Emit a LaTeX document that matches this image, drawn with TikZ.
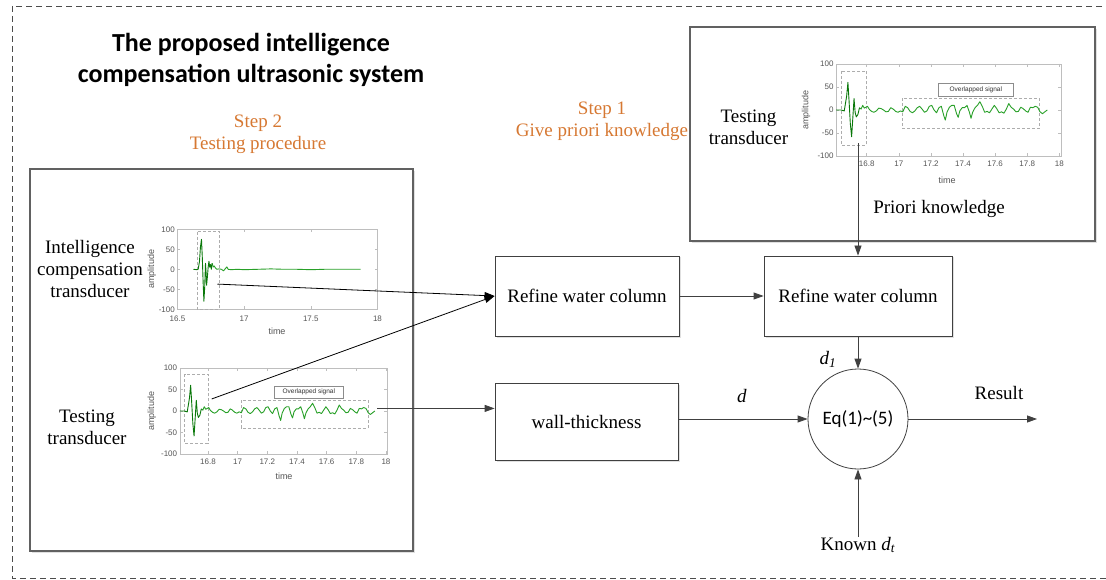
\documentclass[tikz,border=0pt]{standalone}
\usepackage{fontspec}
\setmainfont{Liberation Serif}
\newfontfamily\calfont{Carlito}
\newfontfamily\arfont{Liberation Sans}
\usetikzlibrary{arrows.meta,shadows}
\definecolor{stepor}{RGB}{214,120,50}
\definecolor{lnc}{RGB}{64,64,64}
\definecolor{sigg}{RGB}{40,160,40}
\definecolor{sigd}{RGB}{10,120,10}
\definecolor{axc}{RGB}{190,190,190}
\definecolor{tkc}{RGB}{85,85,85}
\tikzset{
 txt/.style={font=\fontsize{19}{22}\selectfont, align=center, inner sep=0pt},
 stepl/.style={txt, text=stepor},
 boxn/.style={draw=lnc, line width=0.8pt, fill=white, inner sep=0pt,
   font=\fontsize{19}{22}\selectfont,
   drop shadow={shadow xshift=1.5pt, shadow yshift=-1.5pt, fill=black!12, opacity=1}},
 frm/.style={draw=black!62, line width=1.2pt, fill=white, inner sep=0pt,
   drop shadow={shadow xshift=2pt, shadow yshift=-2pt, fill=black!12, opacity=1}},
 arr/.style={draw=lnc, line width=0.8pt, -{Triangle[length=10pt,width=7pt]}},
 sig/.style={draw=sigg, line width=0.9pt, line join=round},
 sigdk/.style={draw=sigd, line width=0.9pt, line join=round},
 ax/.style={draw=axc, line width=0.5pt},
 dbox/.style={draw=black!32, densely dashed, line width=0.5pt},
 lbox/.style={draw=black!45, fill=white, line width=0.5pt},
 tk/.style={font=\arfont\fontsize{8}{9}\selectfont, text=tkc, inner sep=2.5pt},
 xtk/.style={tk, anchor=north, yshift=-2pt},
 axl/.style={font=\arfont\fontsize{9}{10}\selectfont, text=tkc, inner sep=0pt},
 ovl/.style={font=\arfont\fontsize{6.5}{7}\selectfont, text=black!80, inner sep=0pt},
}
\newcommand\burstsig{%
\draw[sigdk] plot coordinates {(16.61,0) (16.64,0) (16.66,-2) (16.675,30) (16.683,60) (16.69,20) (16.698,-30) (16.706,-58) (16.713,-20) (16.721,25) (16.728,-5) (16.735,-15) (16.745,-10) (16.755,5)};}
\newcommand\restsig{%
\draw[sig] plot coordinates {(16.755,5) (16.765,2) (16.775,10) (16.785,4) (16.795,6) (16.805,8) (16.815,2) (16.83,-3) (16.845,-5) (16.86,-2) (16.875,4) (16.89,3) (16.905,0) (16.92,-4) (16.935,-3) (16.95,5) (16.965,2) (16.98,-3) (16.995,-5) (17.01,-2) (17.025,-4) (17.04,8) (17.055,5) (17.07,-3) (17.085,-6) (17.1,-2) (17.115,5) (17.13,8) (17.145,2) (17.16,-5) (17.175,-2) (17.19,8) (17.205,10) (17.22,0) (17.235,-6) (17.25,5) (17.265,8) (17.28,-12) (17.29,-22) (17.3,-5) (17.315,6) (17.33,10) (17.345,10) (17.36,-8) (17.37,-16) (17.38,-2) (17.395,5) (17.41,5) (17.425,10) (17.44,-5) (17.45,-18) (17.46,-5) (17.475,5) (17.49,10) (17.505,18) (17.52,8) (17.535,-5) (17.55,-3) (17.565,-6) (17.58,2) (17.595,10) (17.61,3) (17.625,-6) (17.64,-4) (17.655,-7) (17.67,2) (17.685,14) (17.7,6) (17.715,2) (17.73,-4) (17.745,-3) (17.76,6) (17.775,3) (17.79,-2) (17.805,-5) (17.82,6) (17.835,5) (17.85,8) (17.865,6) (17.88,-4) (17.895,-8) (17.91,-4) (17.925,0)};}
\newcommand\testplot{%
 \draw[ax] (16.61,-100) rectangle (18.01,100);
 \foreach \v in {16.8,17,17.2,17.4,17.6,17.8,18} {\draw[ax] (\v,-100) -- (\v,-93); \draw[ax] (\v,100) -- (\v,93); \node[xtk] at (\v,-100) {\v};}
 \foreach \v in {100,50,0,-50,-100} {\draw[ax] (16.61,\v) -- (16.63,\v); \draw[ax] (18.01,\v) -- (17.99,\v); \node[tk,anchor=east] at (16.61,\v) {\v};}
 \draw[dbox] (16.642,85) rectangle (16.8,-76);
 \draw[dbox] (17.022,25) rectangle (17.878,-40);
 \draw[lbox] (17.245,58) rectangle (17.715,30);
 \node[ovl] at (17.48,44) {Overlapped signal};
 \restsig
 \burstsig
}
\begin{document}
\begin{tikzpicture}[x=1pt,y=-1pt]
\useasboundingbox (0,0) rectangle (1106,580);
% outer dashed frame
\draw[draw=black!70, line width=0.8pt, dash pattern=on 6pt off 4pt] (12,6) rectangle (1120,578);
% frames
\node[frm, minimum width=383pt, minimum height=382pt] (frameL) at (221.5,360) {};
\node[frm, minimum width=405pt, minimum height=214pt] (frameR) at (892.5,134) {};
% title and steps
\node[font=\calfont\bfseries\fontsize{26}{31}\selectfont, align=center, inner sep=0pt] (title) at (251,60) {The proposed intelligence\\compensation ultrasonic system};
\node[stepl] (step2) at (258,134) {Step 2\\Testing procedure};
\node[stepl] (step1) at (602,121) {Step 1\\Give priori knowledge};
% side labels
\node[txt] (lab1) at (90,269.5) {Intelligence\\compensation\\transducer};
\node[txt] (lab2) at (87,427.5) {Testing\\transducer};
\node[txt] (lab3) at (748.5,127.5) {Testing\\transducer};
\node[txt] (prior) at (939,209) {Priori knowledge};
% plot 1
\begin{scope}[shift={(-2022.45,269.3)}, xscale=133.33, yscale=-0.4]
 \draw[ax] (16.5,-100) rectangle (18,100);
 \foreach \v in {16.5,17,17.5,18} {\draw[ax] (\v,-100) -- (\v,-92.5); \draw[ax] (\v,100) -- (\v,92.5); \node[xtk, yshift=-1.5pt] at (\v,-100) {\v};}
 \foreach \v in {100,50,0,-50,-100} {\draw[ax] (16.5,\v) -- (16.522,\v); \draw[ax] (18,\v) -- (17.978,\v); \node[tk,anchor=east] at (16.5,\v) {\v};}
 \draw[dbox] (16.648,94) rectangle (16.81,-100);
 \draw[sig] plot coordinates {(16.76,15) (16.768,6) (16.776,8) (16.785,3) (16.795,0) (16.81,1) (16.83,0) (16.845,-4) (16.86,2) (16.87,6) (16.88,0) (16.9,-1) (16.95,0) (17.0,-1) (17.1,0) (17.2,1) (17.3,0) (17.4,0) (17.5,-1) (17.6,0) (17.7,0) (17.8,0) (17.873,0)};
 \draw[sigdk] plot coordinates {(16.62,0) (16.645,-1) (16.655,0) (16.665,20) (16.672,55) (16.68,75) (16.686,30) (16.692,-30) (16.698,-80) (16.704,-45) (16.71,15) (16.714,-5) (16.718,-40) (16.724,-20) (16.73,5) (16.736,20) (16.742,5) (16.748,12) (16.754,0) (16.76,15)};
 \coordinate (s1) at (16.8,-37);
\end{scope}
\node[axl] (t1) at (277,331) {time};
\node[axl, rotate=90] (a1) at (151.7,269) {amplitude};
% plot 2
\begin{scope}[shift={(-2283.44,411)}, xscale=148.3, yscale=-0.43]
 \testplot
 \coordinate (s2) at (16.825,28);
 \coordinate (s3) at (17.94,6);
\end{scope}
\node[axl] (t2) at (284,476) {time};
\node[axl, rotate=90] (a2) at (151.7,411) {amplitude};
% plot 3
\begin{scope}[shift={(-1829.7,110)}, xscale=160.5, yscale=-0.46]
 \testplot
 \coordinate (s4) at (16.752,-72);
\end{scope}
\node[axl] (t3) at (947,180) {time};
\node[axl, rotate=90] (a3) at (806,110) {amplitude};
% process boxes
\node[boxn, minimum width=184pt, minimum height=80pt] (r1) at (587,296) {Refine water column};
\node[boxn, minimum width=188pt, minimum height=80pt] (r2) at (858,296) {Refine water column};
\node[boxn, minimum width=183pt, minimum height=77pt] (wall) at (586.5,421.5) {wall-thickness};
\node[draw=lnc, line width=0.8pt, circle, minimum size=100pt, inner sep=0pt, fill=white,
  font=\calfont\fontsize{19}{22}\selectfont] (eq) at (858,419) {Eq(1)\textasciitilde(5)};
% labels
\node[txt] (dl) at (742,396) {\textit{d}};
\node[txt] (d1l) at (828,359) {\textit{d}\textsubscript{\textit{1}}};
\node[txt] (resl) at (999,393) {Result};
\node[txt, anchor=north] (known) at (858,537) {Known \textit{d}\textsubscript{\textit{t}}};
\coordinate (res) at (1037,419);
% connectors
\draw[arr, draw=black] (s1) -- (r1.west);
\draw[arr, draw=black] (s2) -- (r1.west);
\draw[arr] (s3) -- (s3 -| wall.west);
\draw[arr] (r1.east) -- (r2.west);
\draw[arr] (s4 -| r2.north) -- (r2.north);
\draw[arr] (r2.south) -- (eq.north);
\draw[arr] (wall.east |- eq.west) -- (eq.west);
\draw[arr] (eq.east) -- (res);
\draw[arr] (known.north) -- (eq.south);
\end{tikzpicture}
\end{document}
